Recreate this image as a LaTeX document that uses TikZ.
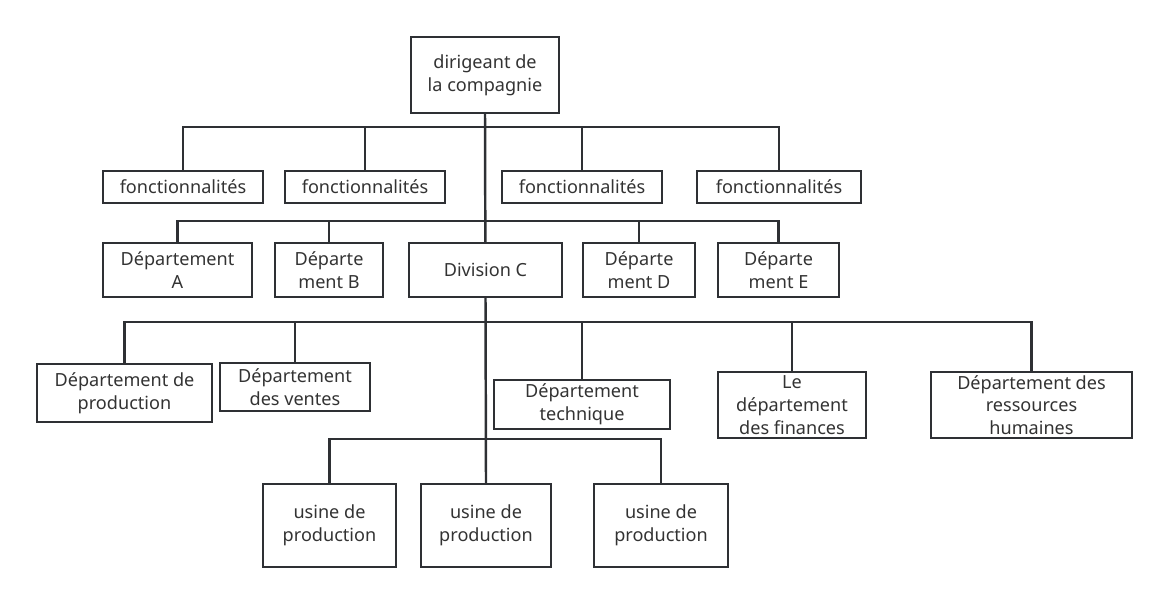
\documentclass[tikz,border=0pt]{standalone}
\usepackage{fontspec}
\setmainfont{Noto Sans}
\usepackage{tikz}
\usetikzlibrary{backgrounds}

\definecolor{inkgray}{HTML}{2E3034}
\definecolor{textgray}{HTML}{333333}

\tikzset{
  orgbox/.style={draw=inkgray, line width=1.4pt, fill=white, align=center,
    inner sep=1pt, text=textgray, font=\fontsize{10.3}{13}\selectfont},
  orgline/.style={draw=inkgray, line width=1.4pt}
}

\begin{document}
\begin{tikzpicture}[x=0.02cm, y=-0.02cm]
        \useasboundingbox (0,0) rectangle (1168,604);

        % top
        \node[orgbox, minimum width=2.96cm, minimum height=1.52cm] (Chef) at (485,75) {dirigeant de\\la compagnie};

        % fonctionnalites
        \node[orgbox, minimum width=3.2cm, minimum height=0.64cm] (FoncA) at (183,187) {fonctionnalités};
        \node[orgbox, minimum width=3.2cm, minimum height=0.64cm] (FoncB) at (365,187) {fonctionnalités};
        \node[orgbox, minimum width=3.2cm, minimum height=0.64cm] (FoncC) at (582,187) {fonctionnalités};
        \node[orgbox, minimum width=3.28cm, minimum height=0.64cm] (FoncD) at (779,187) {fonctionnalités};

        % departements
        \node[orgbox, minimum width=2.98cm, minimum height=1.08cm] (DepA) at (177.5,270) {Département\\A};
        \node[orgbox, minimum width=2.16cm, minimum height=1.08cm] (DepB) at (329,270) {Départe\\ment B};
        \node[orgbox, minimum width=3.06cm, minimum height=1.08cm] (DivC) at (485.5,270) {Division C};
        \node[orgbox, minimum width=2.24cm, minimum height=1.08cm] (DepD) at (639,270) {Départe\\ment D};
        \node[orgbox, minimum width=2.42cm, minimum height=1.08cm] (DepE) at (778.5,270) {Départe\\ment E};

        % services de la division C
        \node[orgbox, minimum width=3.5cm, minimum height=1.16cm] (Prod) at (124.5,393) {Département de\\production};
        \node[orgbox, minimum width=3.0cm, minimum height=0.96cm] (Vente) at (295,387) {Département\\des ventes};
        \node[orgbox, minimum width=3.52cm, minimum height=0.98cm] (Tech) at (582,404.5) {Département\\technique};
        \node[orgbox, minimum width=2.96cm, minimum height=1.32cm] (Fin) at (792,405) {Le\\département\\des finances};
        \node[orgbox, minimum width=4.02cm, minimum height=1.32cm] (RH) at (1031.5,405) {Département des\\ressources\\humaines};

        % usines
        \node[orgbox, minimum width=2.66cm, minimum height=1.66cm] (UsineA) at (329.5,525.5) {usine de\\production};
        \node[orgbox, minimum width=2.6cm, minimum height=1.66cm] (UsineB) at (486,525.5) {usine de\\production};
        \node[orgbox, minimum width=2.68cm, minimum height=1.66cm] (UsineC) at (661,525.5) {usine de\\production};

        % liaisons, sous les boites
        \begin{scope}[on background layer]
        \draw[orgline] (Chef.south) -- (UsineB.north);
        \foreach \n in {FoncA,FoncB,FoncC,FoncD}
            \draw[orgline] (Chef.south) ++(0,13) -| (\n.north);
        \foreach \n in {DepA,DepB,DepD,DepE}
            \draw[orgline] (DivC.north) ++(0,-21) -| (\n.north);
        \foreach \n in {Prod,Vente,Tech,Fin,RH}
            \draw[orgline] (DivC.south) ++(0,24) -| (\n.north);
        \foreach \n in {UsineA,UsineC}
            \draw[orgline] (UsineB.north) ++(0,-44) -| (\n.north);
        \end{scope}
    \end{tikzpicture}
\end{document}
